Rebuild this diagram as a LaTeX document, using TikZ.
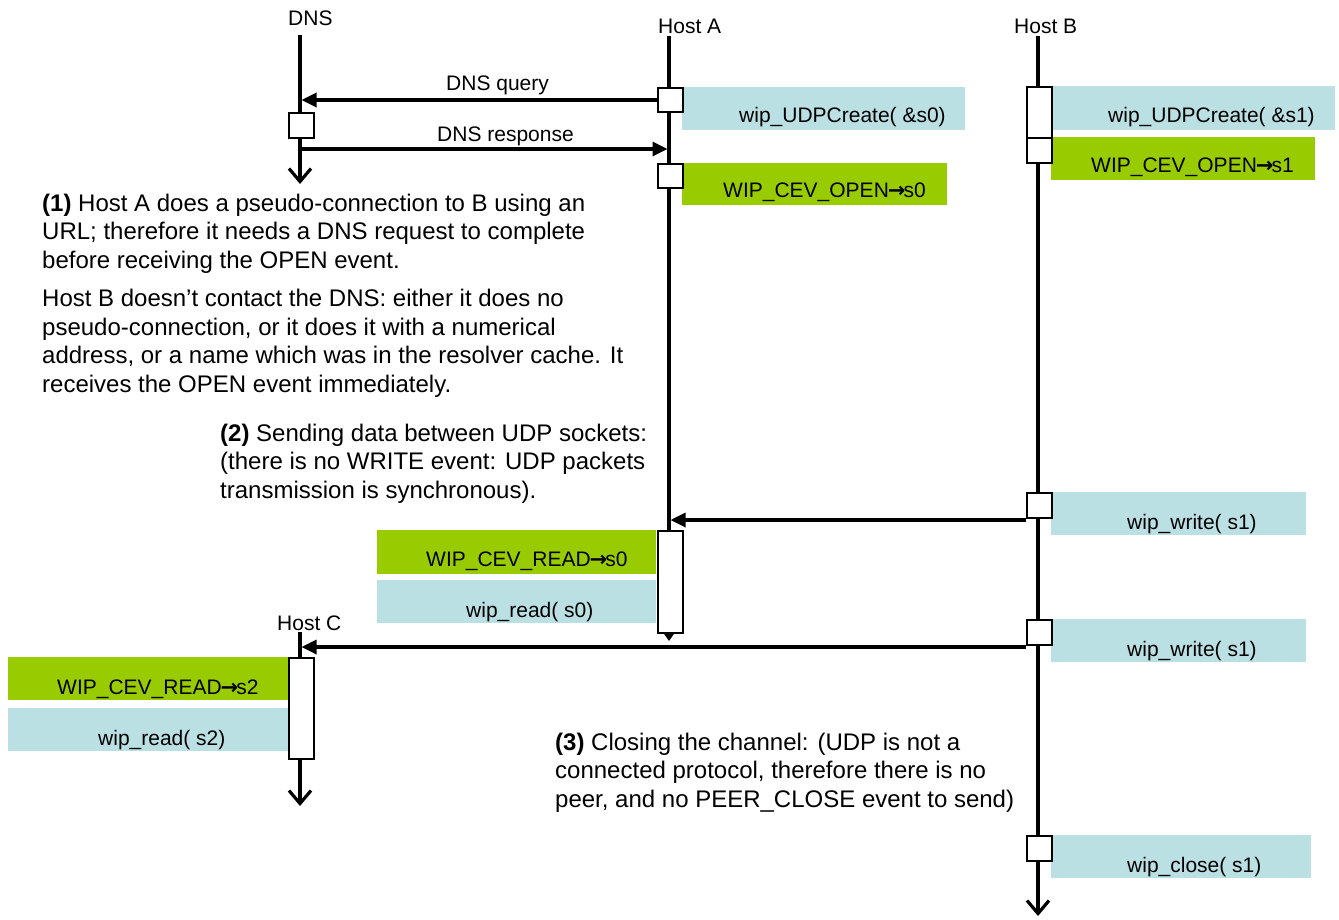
\documentclass[tikz,border=0pt]{standalone}
\usepackage{fontspec}
\setmainfont{Liberation Sans}
\newfontfamily\arrowfont{DejaVu Sans}
\usetikzlibrary{arrows.meta,calc}
\definecolor{callblue}{RGB}{187,224,227}
\definecolor{eventgreen}{RGB}{153,204,0}
\newcommand{\evarrow}{\kern-1pt{\arrowfont\bfseries →}\kern-2pt}

\begin{document}
\begin{tikzpicture}[x=1pt,y=-1pt,
  lifeline/.style={line width=3.2pt},
  openend/.style={-{Straight Barb[length=13pt,width=22pt,line width=3.2pt]}},
  msg/.style={line width=3.3pt,-{Triangle[length=15pt,width=14pt]}},
  actbox/.style={draw,fill=white,line width=2pt,minimum width=25pt,inner sep=0pt,anchor=north west},
  callbox/.style={fill=callblue,inner sep=0pt,anchor=north west},
  evbox/.style={fill=eventgreen,inner sep=0pt,anchor=north west},
  lbl/.style={font=\fontsize{21pt}{25pt}\selectfont,inner sep=0pt,anchor=base west},
  note/.style={font=\fontsize{24pt}{28.4pt}\selectfont,align=left,inner sep=0pt,anchor=base west}]

\path[use as bounding box,fill=white] (0,0) rectangle (1339,919);

% ---- call / event boxes
\node[callbox,minimum width=283pt,minimum height=43pt] (callA)   at (682,87)  {};
\node[evbox,  minimum width=265pt,minimum height=42pt] (openA)   at (682,163) {};
\node[callbox,minimum width=284pt,minimum height=44pt] (callB)   at (1051,86) {};
\node[evbox,  minimum width=264pt,minimum height=43pt] (openB)   at (1051,137) {};
\node[callbox,minimum width=255pt,minimum height=43pt] (writeB1) at (1051,492) {};
\node[callbox,minimum width=255pt,minimum height=43pt] (writeB2) at (1051,619) {};
\node[evbox,  minimum width=279pt,minimum height=44pt] (readevA) at (377,530) {};
\node[callbox,minimum width=279pt,minimum height=43pt] (readA)   at (377,580) {};
\node[evbox,  minimum width=280pt,minimum height=43pt] (readevC) at (8,657)   {};
\node[callbox,minimum width=280pt,minimum height=43pt] (readC)   at (8,708)   {};
\node[callbox,minimum width=260pt,minimum height=43pt] (closeB)  at (1051,835) {};

% ---- lifelines
\coordinate (dnsTop) at (300,35);
\coordinate (dnsEnd) at (300,184);
\coordinate (aTop)   at (669,36);
\coordinate (aEnd)   at (669,641);
\coordinate (bTop)   at (1038,36);
\coordinate (bEnd)   at (1038,916);
\coordinate (cTop)   at (300,632);
\coordinate (cEnd)   at (300,806);
\draw[lifeline,openend] (dnsTop) -- (dnsEnd);
\draw[lifeline,-{Triangle[length=9pt,width=12pt]}] (aTop) -- (aEnd);
\draw[lifeline,openend] (bTop) -- (bEnd);
\draw[lifeline,openend] (cTop) -- (cEnd);

% ---- activation boxes
\node[actbox,minimum height=25pt]  (d1) at (288,112) {};
\node[actbox,minimum height=24pt]  (a1) at (657,87)  {};
\node[actbox,minimum height=24pt]  (a2) at (657,163) {};
\node[actbox,minimum height=102pt] (a3) at (657,530) {};
\node[actbox,minimum height=51pt]  (b1) at (1026,86) {};
\node[actbox,minimum height=25pt]  (b2) at (1026,137) {};
\node[actbox,minimum height=25pt]  (b3) at (1026,492) {};
\node[actbox,minimum height=25pt]  (b4) at (1026,619) {};
\node[actbox,minimum height=25pt]  (b5) at (1026,835) {};
\node[actbox,minimum height=101pt] (c1) at (288,657) {};

% ---- messages
\coordinate (dnsResp) at (300,149);
\draw[msg] (a1.west) -- ($(a1.west -| dnsTop)+(1.5,0)$);
\draw[msg] (dnsResp) -- ($(dnsResp -| aTop)-(1.5,0)$);
\draw[msg] ($(b3.south west)+(0,1)$) -- ($(b3.south west -| aTop)+(1.5,1)$);
\draw[msg] ($(b4.south west)+(0,1)$) -- ($(b4.south west -| cTop)+(1.5,1)$);

% ---- lifeline names and message labels
\node[lbl] (nDns)  at (288,25)  {DNS};
\node[lbl] (nA)    at (658,33)  {Host A};
\node[lbl] (nB)    at (1014,33) {Host B};
\node[lbl] (nC)    at (277,630) {Host C};
\node[lbl] (lQ)    at (446,90)  {DNS query};
\node[lbl] (lR)    at (437,141) {DNS response};

% ---- box texts
\node[lbl] (tCallA)   at (739,122)  {wip\_UDPCreate( \&s0)};
\node[lbl] (tOpenA)   at (723,197)  {WIP\_CEV\_OPEN\evarrow s0};
\node[lbl] (tCallB)   at (1108,122) {wip\_UDPCreate( \&s1)};
\node[lbl] (tOpenB)   at (1091,172) {WIP\_CEV\_OPEN\evarrow s1};
\node[lbl] (tWrite1)  at (1127,529) {wip\_write( s1)};
\node[lbl] (tWrite2)  at (1127,656) {wip\_write( s1)};
\node[lbl] (tReadevA) at (426,566)  {WIP\_CEV\_READ\evarrow s0};
\node[lbl] (tReadA)   at (466,617)  {wip\_read( s0)};
\node[lbl] (tReadevC) at (57,694)   {WIP\_CEV\_READ\evarrow s2};
\node[lbl] (tReadC)   at (98,745)   {wip\_read( s2)};
\node[lbl] (tClose)   at (1127,872) {wip\_close( s1)};

% ---- notes (base anchor sits on the last line)
\node[note] (note1a) at (42,268) {\textbf{(1)} Host A does a pseudo-connection to B using an\\
URL; therefore it needs a DNS request to complete\\
before receiving the OPEN event.};
\node[note] (note1b) at (42,392) {Host B doesn’t contact the DNS: either it does no\\
pseudo-connection, or it does it with a numerical\\
address, or a name which was in the resolver cache. It\\
receives the OPEN event immediately.};
\node[note] (note2) at (220,498) {\textbf{(2)} Sending data between UDP sockets:\\
(there is no WRITE event: UDP packets\\
transmission is synchronous).};
\node[note] (note3) at (555,807) {\textbf{(3)} Closing the channel: (UDP is not a\\
connected protocol, therefore there is no\\
peer, and no PEER\_CLOSE event to send)};
\end{tikzpicture}
\end{document}
